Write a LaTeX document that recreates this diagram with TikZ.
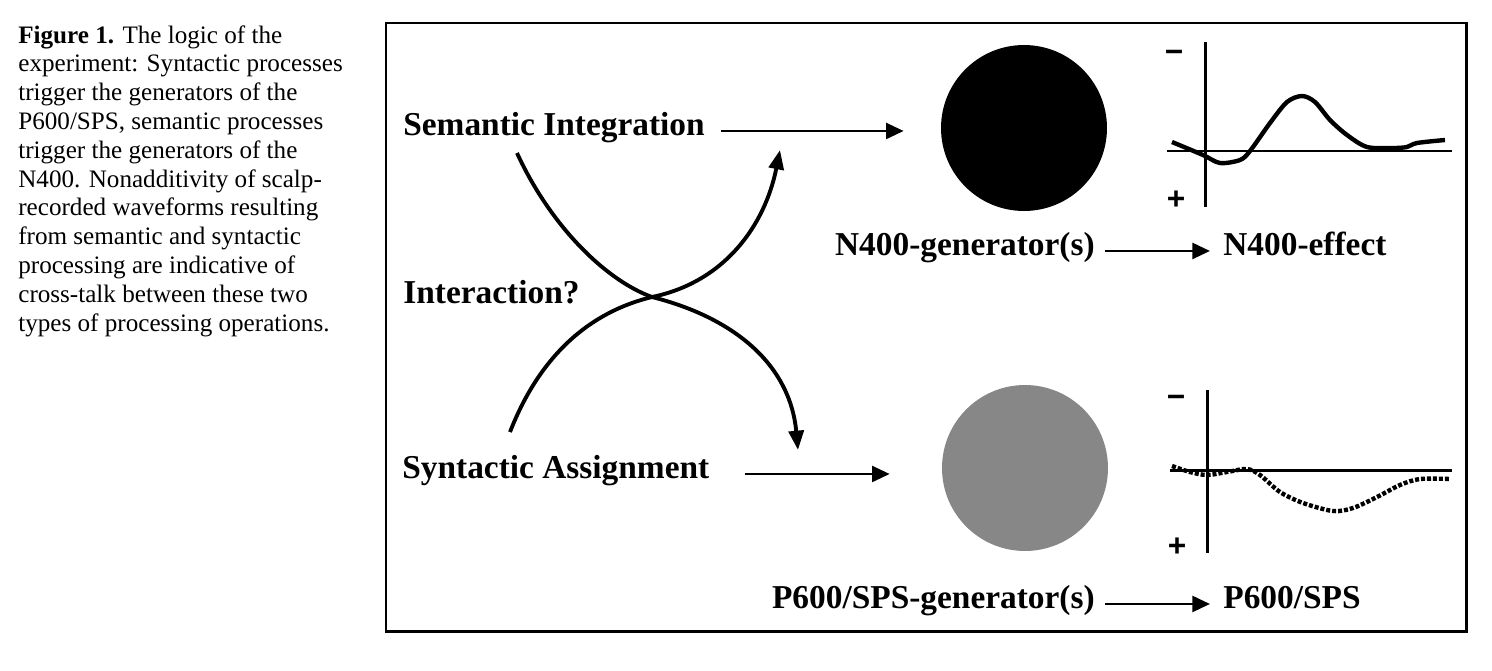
\documentclass[tikz,border=0pt]{standalone}
\usepackage{fontspec}
\setmainfont{Liberation Serif}
\setsansfont{Liberation Sans}
\usetikzlibrary{arrows.meta, positioning}

\begin{document}
\begin{tikzpicture}[x=0.02cm, y=-0.02cm,
    lbl/.style={inner sep=0pt, font=\fontsize{19}{22}\selectfont\bfseries},
    sign/.style={inner sep=0pt, font=\fontsize{18}{20}\selectfont\sffamily\bfseries},
    gen/.style={circle, minimum size=3.32cm, inner sep=0pt},
    arrow/.style={-{Triangle[length=10pt, width=9pt]}, line width=1.6pt},
    cross/.style={-{Triangle[length=11pt, width=8.5pt]}, line width=2.2pt},
    axis/.style={line width=1.7pt},
    wave/.style={line width=2.5pt}
]
\useasboundingbox (0,0) rectangle (1492,670);

% caption
\node[anchor=north west, inner sep=0pt, align=left, font=\fontsize{14.3}{16.4}\selectfont] (caption) at (18,25)
    {\textbf{Figure 1.} The logic of the\\
     experiment: Syntactic processes\\
     trigger the generators of the\\
     P600/SPS, semantic processes\\
     trigger the generators of the\\
     N400. Nonadditivity of scalp-\\
     recorded waveforms resulting\\
     from semantic and syntactic\\
     processing are indicative of\\
     cross-talk between these two\\
     types of processing operations.};

\draw[line width=1.7pt] (386,23) rectangle (1466,631);

% processes
\node[lbl, anchor=base west] (semint) at (403,135) {Semantic Integration};
\node[lbl, anchor=base west] (interact) at (403,303) {Interaction?};
\node[lbl, anchor=base west] (synass) at (402,478) {Syntactic Assignment};

% generators and effects
\node[gen, fill=black] (n400src) at (1024,128) {};
\node[gen, fill=black!47] (p600src) at (1025,468) {};
\node[lbl, anchor=base west] (n400eff) at (1223,255) {N400-effect};
\node[lbl, base left=2.56cm of n400eff] (n400gen) {N400-generator(s)};
\node[lbl, anchor=base west] (p600eff) at (1223,608) {P600/SPS};
\node[lbl, base left=2.56cm of p600eff] (p600gen) {P600/SPS-generator(s)};

\draw[arrow, shorten <=0.32cm, shorten >=0.74cm] (semint.mid east) -- (semint.mid east -| n400src.west);
\draw[arrow, shorten <=0.7cm, shorten >=1.04cm] (synass.mid east) -- (synass.mid east -| p600src.west);
\draw[arrow, shorten <=0.2cm, shorten >=0.26cm] (n400gen.mid east) -- (n400gen.mid east -| n400eff.west);
\draw[arrow, shorten <=0.2cm, shorten >=0.26cm] (p600gen.mid east) -- (p600gen.mid east -| p600eff.west);

% crossing arrows
\coordinate (semfoot) at (517,153);
\coordinate (synfoot) at (510,432);
\coordinate (semhead) at (780,150);
\coordinate (synhead) at (798,450);
\coordinate (crossing) at (652,297);
\draw[cross] (semfoot) .. controls (550,225) and (605,280) .. (crossing)
    .. controls (735,318) and (790,365) .. (synhead);
\draw[cross] (synfoot) .. controls (540,355) and (590,312) .. (crossing)
    .. controls (725,282) and (765,225) .. (semhead);

% N400 waveform
\draw[axis] (1205,42) -- (1205,207);
\draw[axis] (1167,151) -- (1452,151);
\node[sign] (n400neg) at (1174,56) {−};
\node[sign] (n400pos) at (1176,200) {+};
\draw[wave] plot[smooth] coordinates {(1172,142) (1203,155) (1220,163) (1240,160) (1250,151)
    (1270,123) (1287,102) (1302,96) (1315,102) (1330,120) (1347,135) (1367,147)
    (1393,148) (1407,147) (1417,143) (1445,140)};

% P600 waveform
\draw[axis] (1207,390) -- (1207,553);
\draw[axis] (1170,470) -- (1452,470);
\node[sign] (p600neg) at (1176,401) {−};
\node[sign] (p600pos) at (1177,547) {+};
\draw[wave, dash pattern=on 2.3pt off 1.1pt] plot[smooth] coordinates {(1172,466) (1190,472)
    (1207,475) (1227,472) (1247,469) (1260,475) (1280,492) (1303,503) (1333,511)
    (1353,508) (1377,497) (1400,485) (1420,479) (1450,479)};
\end{tikzpicture}
\end{document}
